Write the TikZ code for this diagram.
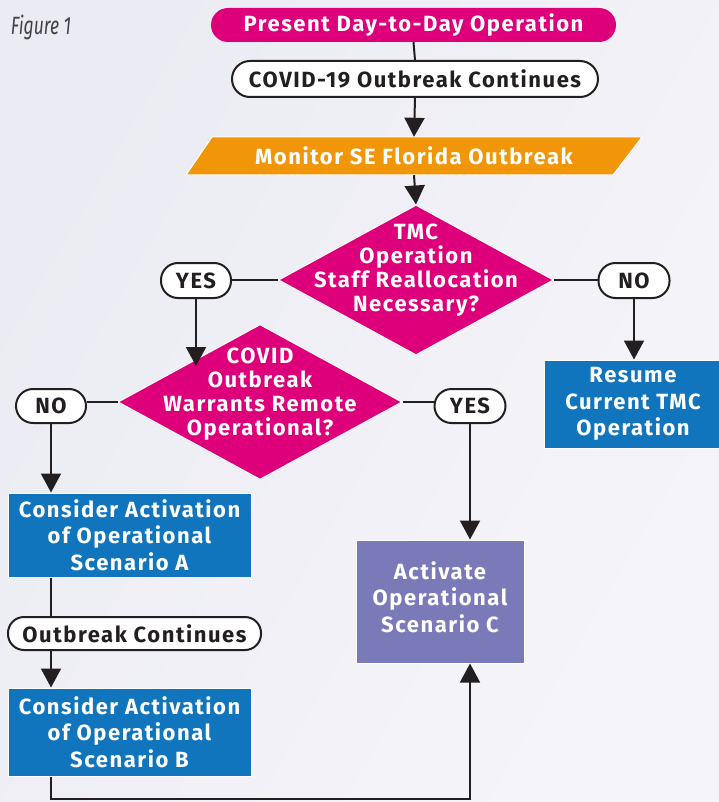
\documentclass[tikz,border=0pt]{standalone}
\usepackage{fontspec}
\setmainfont{Fira Sans}
\newfontfamily\bfam{Fira Sans}[LetterSpace=7]
\usetikzlibrary{shapes.geometric,arrows.meta}
\definecolor{mag}{RGB}{222,0,122}
\definecolor{orng}{RGB}{240,150,8}
\definecolor{blu}{RGB}{17,117,190}
\definecolor{purp}{RGB}{123,122,185}
\definecolor{bgA}{RGB}{235,235,243}
\definecolor{bgB}{RGB}{245,245,249}
\definecolor{ink}{RGB}{35,31,32}
\begin{document}
\begin{tikzpicture}[x=1pt,y=-1pt,
  conn/.style={draw=ink,line width=2pt},
  arr/.style={conn,-{Triangle[width=20pt,length=19pt]}},
  dtxt/.style={font=\bfam\bfseries\fontsize{22}{24}\selectfont,align=center,text=white,inner sep=0pt},
  btxt/.style={font=\bfam\bfseries\fontsize{22}{26.5}\selectfont,align=center,text=white},
  pillw/.style={draw=ink,line width=2pt,fill=white,text=ink,font=\bfam\bfseries\fontsize{22}{24}\selectfont,inner sep=0pt},
  boxn/.style={draw=white,line width=1pt,inner sep=0pt},
  dia/.style={diamond,fill=mag,draw=white,line width=1pt,inner sep=0pt}
]
\useasboundingbox (0,0) rectangle (719,802);
\shade[left color=bgA,right color=bgB,shading angle=60] (0,0) rectangle (719,802);

\node[text=ink!85,font=\itshape\fontsize{25}{26}\selectfont,xscale=0.7] (fig) at (41,27) {Figure 1};

% top pills
\node[fill=mag,rounded corners=17pt,minimum width=405pt,minimum height=34pt,inner sep=0pt,
      text=white,font=\bfam\bfseries\fontsize{22}{24}\selectfont] (start) at (413.5,25) {Present Day-to-Day Operation};
\node[pillw,rounded corners=18pt,minimum width=366pt,minimum height=36pt] (cont1) at (415,79) {COVID-19 Outbreak Continues};

% parallelogram
\fill[orng,draw=white,line width=1pt] (212,137) -- (642,137) -- (613,175) -- (186,175) -- cycle;
\node[minimum width=400pt,minimum height=38pt,inner sep=0pt,text=white,
      font=\bfam\bfseries\fontsize{22}{24}\selectfont] (mon) at (414,156) {Monitor SE Florida Outbreak};

% diamonds
\node[dia,minimum width=275pt,minimum height=150pt] (d1) at (416,280) {};
\node[dtxt] (d1t) at (416,270) {TMC\\Operation\\Staff Reallocation\\Necessary?};
\node[dia,minimum width=284pt,minimum height=155pt] (d2) at (260,402) {};
\node[dtxt] (d2t) at (260,394) {COVID\\Outbreak\\Warrants Remote\\Operational?};

% decision pills
\node[pillw,rounded corners=17pt,minimum width=70pt,minimum height=35pt] (yes1) at (196,280.5) {YES};
\node[pillw,rounded corners=17pt,minimum width=71pt,minimum height=35pt] (no1) at (634,280.5) {NO};
\node[pillw,rounded corners=17pt,minimum width=70pt,minimum height=34pt] (no2) at (51,406) {NO};
\node[pillw,rounded corners=17pt,minimum width=71pt,minimum height=34pt] (yes2) at (470,406) {YES};

% boxes
\node[boxn,fill=blu,minimum width=178pt,minimum height=88pt] (resume) at (633,404) {};
\node[btxt] at (resume) {Resume\\Current TMC\\Operation};
\node[boxn,fill=blu,minimum width=243pt,minimum height=84pt] (boxA) at (129.5,535) {};
\node[btxt] at (boxA) {Consider Activation\\of Operational\\Scenario A};
\node[pillw,rounded corners=16pt,minimum width=253pt,minimum height=33pt] (cont2) at (134.5,633.5) {Outbreak Continues};
\node[boxn,fill=blu,minimum width=243pt,minimum height=88pt] (boxB) at (129.5,732) {};
\node[btxt] at (boxB) {Consider Activation\\of Operational\\Scenario B};
\node[boxn,fill=purp,minimum width=168pt,minimum height=123pt] (boxC) at (440,601.5) {};
\node[btxt] at (440,597) {Activate\\Operational\\Scenario C};

\coordinate (d2hit) at (196,366);
\coordinate (lp) at (0,799);

% connectors
\draw[conn] (start.south) -- (cont1.north);
\draw[arr] (cont1.south) -- (mon.north);
\draw[arr] (mon.south) -- (d1.north);
\draw[conn] (d1.west) -- (d1.west -| yes1.east);
\draw[arr] (yes1.south) -- (d2hit);
\draw[conn] (d1.east) -- (d1.east -| no1.west);
\draw[arr] (no1.south) -- (no1.south |- resume.north);
\draw[conn] (d2.west) -- (d2.west -| no2.east);
\draw[arr] (no2.south) -- (no2.south |- boxA.north);
\draw[conn] (d2.east) -- (d2.east -| yes2.west);
\draw[arr] (yes2.south) -- (yes2.south |- boxC.north);
\draw[conn] (no2.south |- boxA.south) -- (no2.south |- cont2.north);
\draw[arr] (no2.south |- cont2.south) -- (no2.south |- boxB.north);
\draw[arr,line width=1.6pt] (no2.south |- boxB.south) -- (no2.south |- lp) -| (yes2.south |- boxC.south);
\end{tikzpicture}
\end{document}
